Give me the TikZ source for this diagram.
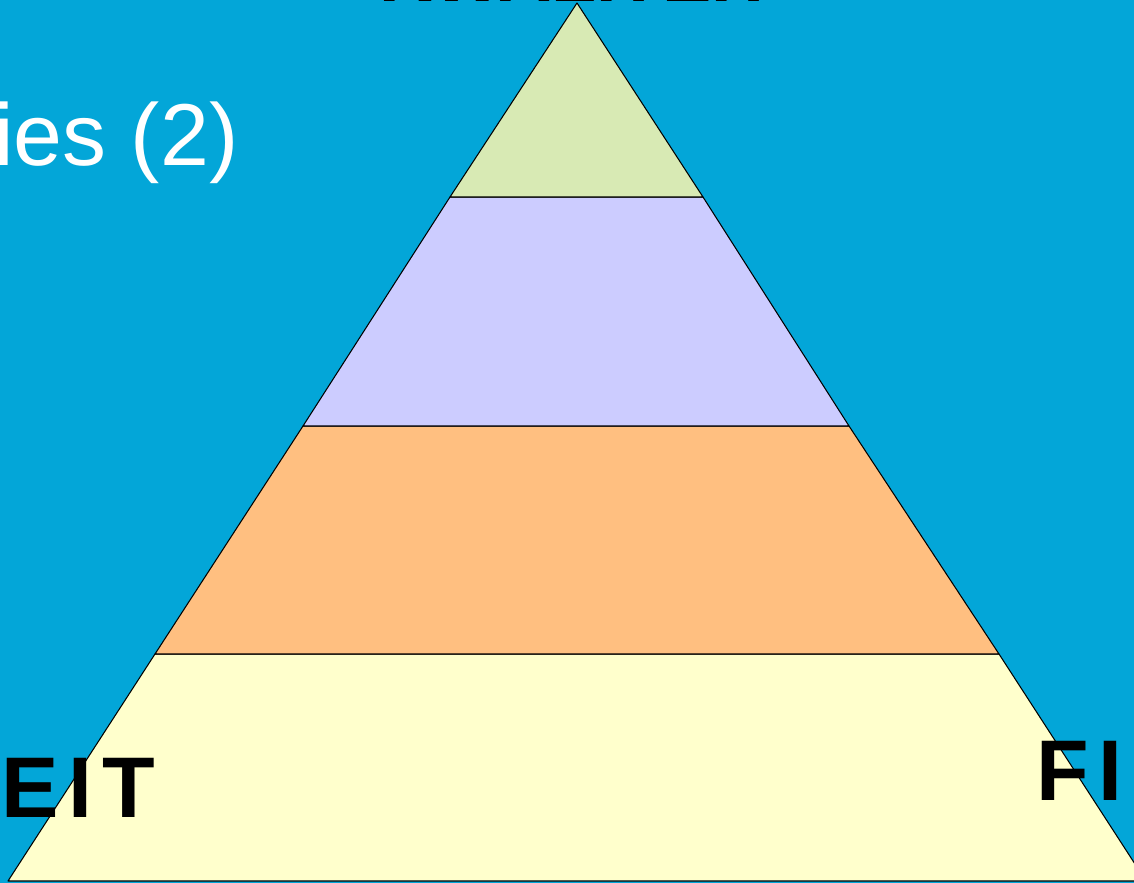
\documentclass[tikz,border=0pt]{standalone}
\usepackage{fontspec}
\setmainfont{Liberation Sans}
\usetikzlibrary{positioning}

\definecolor{slideblue}{HTML}{03A6D8}
\definecolor{tiergreen}{HTML}{D8EAB4}
\definecolor{tierpurple}{HTML}{CCCCFF}
\definecolor{tierorange}{HTML}{FFBF80}
\definecolor{tieryellow}{HTML}{FFFFCC}

\begin{document}
\begin{tikzpicture}[
    x=0.2mm, y=-0.2mm,
    tier/.style={draw=black, line width=0.6pt, line join=round},
    title/.style={text=white, inner sep=0pt, font=\fontsize{50}{60}\selectfont},
    corner/.style={text=black, inner sep=0pt,
                   font=\fontsize{49}{58}\selectfont\bfseries\addfontfeature{LetterSpace=11}}
]

% Slide background
\clip (0,0) rectangle (1134,883);
\fill[slideblue] (0,0) rectangle (1134,883);

% Pyramid corners
\coordinate (apex) at (577,3);
\coordinate (baseL) at (8,881);
\coordinate (baseR) at (1146,881);

% Tiers, bottom to top
\draw[tier, fill=tieryellow] (baseL) -- (155,654) -- (999,654) -- (baseR) -- cycle;
\draw[tier, fill=tierorange] (155,654) -- (303,426) -- (849,426) -- (999,654) -- cycle;
\draw[tier, fill=tierpurple] (303,426) -- (450,197) -- (703,197) -- (849,426) -- cycle;
\draw[tier, fill=tiergreen] (450,197) -- (apex) -- (703,197) -- cycle;

% Texts
\node[title, anchor=base west] (heading) at (-6,165) {ies (2)};
\node[corner, anchor=base, font=\fontsize{42}{50}\selectfont\bfseries] (toplabel) at (578,1) {KWALITEIT};
\node[corner, anchor=base east] (leftlabel) at (155,817) {TEIT};
\node[corner, anchor=base west] (rightlabel) at (1036,800) {FI};

\end{tikzpicture}
\end{document}
